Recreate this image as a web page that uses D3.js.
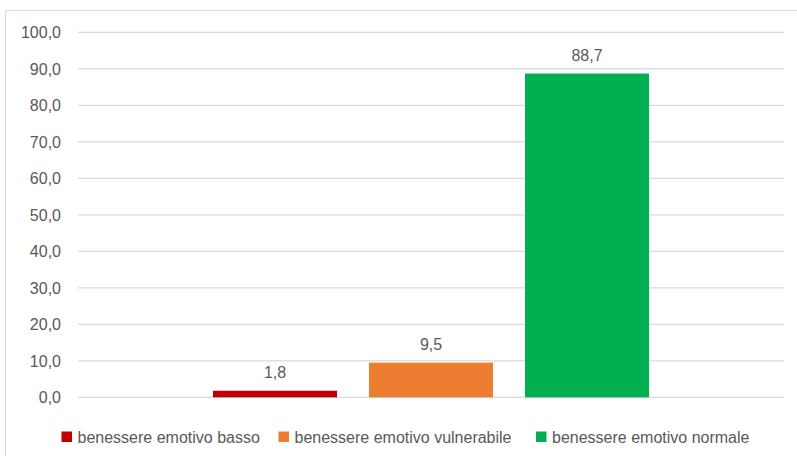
<!DOCTYPE html>
<html>
<head>
<meta charset="utf-8">
<script src="https://cdn.jsdelivr.net/npm/d3@7"></script>
<style>
  html, body { margin: 0; padding: 0; background: #fff; }
  svg { display: block; }
  text { font-family: "Liberation Sans", Arial, sans-serif; fill: #595959; }
</style>
</head>
<body>
<svg id="chart" width="797" height="456"></svg>
<script>
// Emotional well-being distribution (%)
const categories = [""];
const series = ["benessere emotivo basso", "benessere emotivo vulnerabile", "benessere emotivo normale"];
const values = [1.8, 9.5, 88.7];
const colors = ["#C00000", "#ED7D31", "#00B050"];
const yTicks = [0, 10, 20, 30, 40, 50, 60, 70, 80, 90, 100];

const svg = d3.select("#chart");
const W = 797, H = 456;
const FS = 16;

// chart frame
svg.append("rect")
  .attr("x", 5.5).attr("y", 10.5)
  .attr("width", W + 10).attr("height", H + 10)
  .attr("fill", "#fff").attr("stroke", "#d9d9d9").attr("stroke-width", 1);

const plot = { left: 78, right: 784, top: 32.3, bottom: 397.3 };

const y = d3.scaleLinear().domain([0, 100]).range([plot.bottom, plot.top]);
const x0 = d3.scaleBand().domain(categories).range([plot.left, plot.right])
  .paddingInner(0).paddingOuter(0.3096);
const x1 = d3.scaleBand().domain(series).range([0, x0.bandwidth()])
  .paddingInner(0.205).paddingOuter(0);

const fmt = v => d3.format(".1f")(v).replace(".", ",");

// gridlines
svg.append("g")
  .selectAll("line").data(yTicks).join("line")
  .attr("x1", plot.left).attr("x2", plot.right)
  .attr("y1", d => y(d)).attr("y2", d => y(d))
  .attr("stroke", "#d9d9d9").attr("stroke-width", 1.3);

// y axis labels
const yAxis = d3.axisLeft(y).tickValues(yTicks).tickFormat(fmt).tickSize(0).tickPadding(0);
const ya = svg.append("g").attr("transform", "translate(61,0)").call(yAxis);
ya.select(".domain").remove();
ya.selectAll("text")
  .attr("font-family", "Liberation Sans, Arial, sans-serif")
  .attr("font-size", FS).attr("fill", "#595959").attr("dy", "0.35em");

// bars
const g = svg.append("g");
categories.forEach(cat => {
  series.forEach((s, i) => {
    const bx = x0(cat) + x1(s);
    g.append("rect")
      .attr("x", bx).attr("y", y(values[i]))
      .attr("width", x1.bandwidth()).attr("height", y(0) - y(values[i]))
      .attr("fill", colors[i]);
    g.append("text")
      .attr("x", bx + x1.bandwidth() / 2).attr("y", y(values[i]) - 12.5)
      .attr("text-anchor", "middle").attr("font-size", FS)
      .text(fmt(values[i]));
  });
});

// legend
const legendX = [61.5, 278.5, 536];
const lg = svg.append("g");
series.forEach((s, i) => {
  lg.append("rect").attr("x", legendX[i]).attr("y", 431.5)
    .attr("width", 10.5).attr("height", 10.5).attr("fill", colors[i]);
  lg.append("text").attr("x", legendX[i] + 16).attr("y", 442.5)
    .attr("font-size", FS).text(s);
});
</script>
</body>
</html>
